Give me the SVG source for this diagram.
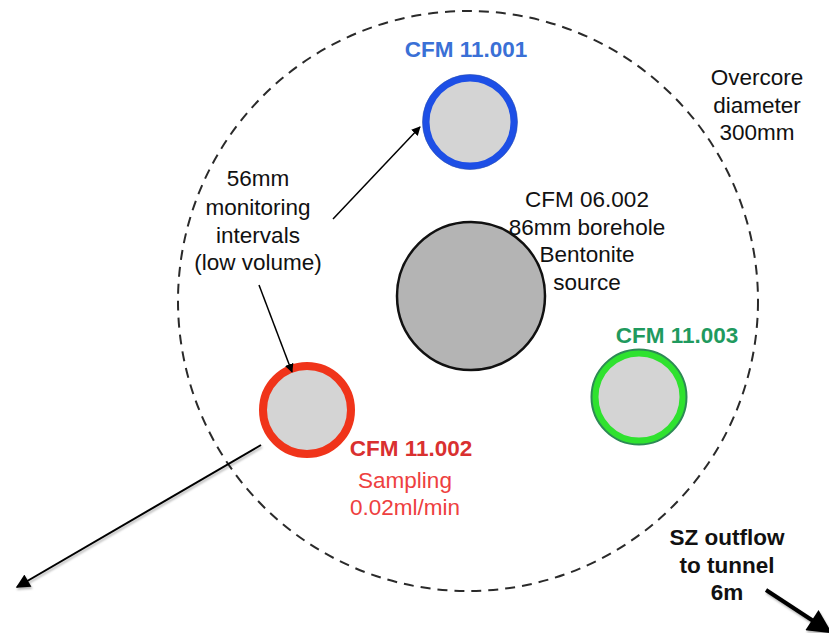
<svg xmlns="http://www.w3.org/2000/svg" width="829" height="633" viewBox="0 0 829 633">
<defs>
<style>
text{font-family:"Liberation Sans",Arial,Helvetica,sans-serif;font-size:22.5px;text-anchor:middle;fill:#111}
.b{font-weight:bold}
.conn line{stroke:#000;fill:none}
</style>
<marker id="ah" viewBox="0 0 10 10" refX="9" refY="5" markerWidth="9" markerHeight="9" markerUnits="userSpaceOnUse" orient="auto"><path d="M0,0 L10,5 L0,10 z" fill="#000"/></marker>
<marker id="ahL" viewBox="0 0 10 10" refX="9" refY="5" markerWidth="16" markerHeight="14" markerUnits="userSpaceOnUse" orient="auto"><path d="M0,0 L10,5 L0,10 z" fill="#000"/></marker>
<marker id="ahT" viewBox="0 0 10 10" refX="6" refY="5" markerWidth="26" markerHeight="24" markerUnits="userSpaceOnUse" orient="auto"><path d="M0,0 L10,5 L0,10 z" fill="#000"/></marker>
<filter id="sh" x="-10%" y="-10%" width="120%" height="130%"><feDropShadow dx="1" dy="2" stdDeviation="1.2" flood-color="#000" flood-opacity="0.3"/></filter>
</defs>
<rect width="829" height="633" fill="#fff"/>
<g id="overcore">
<circle cx="468" cy="301" r="290" fill="none" stroke="#2a2a2a" stroke-width="2" stroke-dasharray="10 7"/>
<text x="757" y="85">Overcore</text>
<text x="757" y="113">diameter</text>
<text x="757" y="140">300mm</text>
</g>
<g id="cfm06002">
<circle cx="471" cy="296" r="74" fill="#b4b4b4" stroke="#111" stroke-width="2.5"/>
<text x="587" y="207">CFM 06.002</text>
<text x="587" y="235">86mm borehole</text>
<text x="587" y="262">Bentonite</text>
<text x="587" y="290">source</text>
</g>
<g id="cfm11001">
<circle cx="470" cy="122" r="44" fill="#d4d4d4" stroke="#1d4fe6" stroke-width="7"/>
<circle cx="470" cy="122" r="47.5" fill="none" stroke="#2a4fb0" stroke-width="1" opacity="0.6"/>
<text class="b" x="466" y="57" style="fill:#3a70d6">CFM 11.001</text>
</g>
<g id="cfm11002">
<circle cx="307" cy="410" r="44" fill="#d4d4d4" stroke="#f0341a" stroke-width="8"/>
<text class="b" x="411" y="456" style="fill:#d93030">CFM 11.002</text>
<text x="405" y="488" style="fill:#ee4040">Sampling</text>
<text x="405" y="515" style="fill:#ee4040">0.02ml/min</text>
</g>
<g id="cfm11003">
<circle cx="639" cy="397" r="44" fill="#d4d4d4" stroke="#2fe22f" stroke-width="7"/>
<circle cx="639" cy="397" r="47.5" fill="none" stroke="#2d8a55" stroke-width="2"/>
<text class="b" x="677" y="343" style="fill:#1f9a5e">CFM 11.003</text>
</g>
<g id="label56">
<text x="258" y="186">56mm</text>
<text x="258" y="215">monitoring</text>
<text x="258" y="243">intervals</text>
<text x="258" y="270">(low volume)</text>
</g>
<g id="szoutflow">
<text class="b" x="727" y="545">SZ outflow</text>
<text class="b" x="727" y="573">to tunnel</text>
<text class="b" x="727" y="600">6m</text>
</g>
<g id="connectors" class="conn">
<line x1="333" y1="219" x2="420" y2="127" stroke-width="1.5" marker-end="url(#ah)"/>
<line x1="259" y1="285" x2="292" y2="372" stroke-width="1.5" marker-end="url(#ah)"/>
<line x1="261" y1="445" x2="17" y2="587" stroke-width="2" marker-end="url(#ahL)" filter="url(#sh)"/>
<line x1="766" y1="590" x2="824" y2="628" stroke-width="4" marker-end="url(#ahT)" filter="url(#sh)"/>
</g>
</svg>
